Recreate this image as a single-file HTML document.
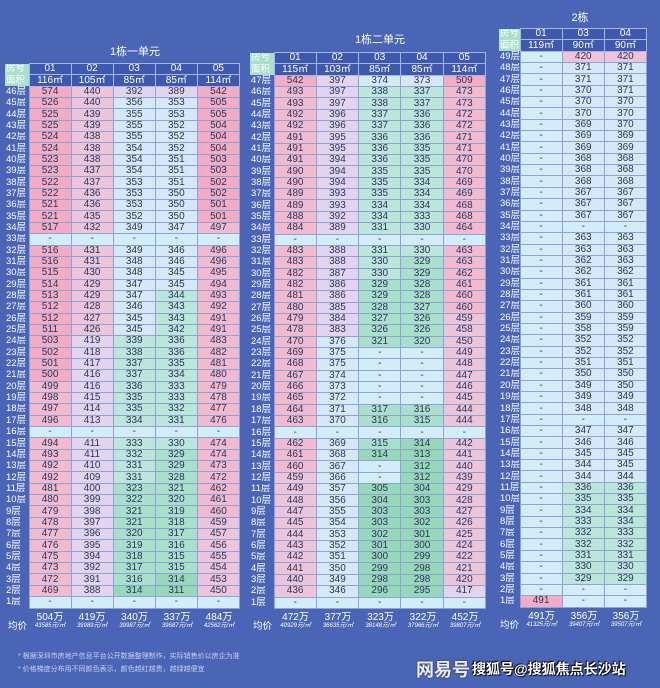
<!DOCTYPE html>
<html><head><meta charset="utf-8"><style>
*{margin:0;padding:0;box-sizing:border-box}
body{width:660px;height:688px;background:#4a64b6;position:relative;overflow:hidden;font-family:"Liberation Sans","Noto Sans CJK SC",sans-serif}
.t{position:absolute;border-collapse:collapse;table-layout:fixed}
.t tr{height:11.35px}
.t td,.t th{height:11.35px;overflow:hidden}
.t td{border:1px solid #8ea2d8;font-size:10px;color:#2e3556;text-align:center;line-height:10px;padding:0;white-space:nowrap}
.t th{font-size:9.5px;color:#fff;font-weight:normal;text-align:left;padding-left:1px;line-height:10px;white-space:nowrap}
.t tr.h td{background:#3e58ae;color:#fff;border:1px solid #a7b6e6}
.a{background:#f2adc5}.b{background:#f2bacf}.c{background:#ecc5db}.d{background:#e2d4ee}.e{background:#d5e8f6}.f{background:#d3edf8}.g{background:#bce6da}.h{background:#a9e0cb}.i{background:#97d8bb}
.ttl{position:absolute;color:#fff;font-size:11px;text-align:center}
.av{position:absolute;color:#fff;text-align:center;line-height:9px}
.av b{display:block;font-weight:normal;font-size:10px}
.av s{display:block;text-decoration:none;font-size:6px;font-style:italic}
.lab{position:absolute;color:#fff;font-size:9.5px}
.note{position:absolute;left:18px;color:#c9d0f0;font-size:7px}
</style></head><body>
<div class="ttl" style="left:85px;top:43px;width:100px">1栋一单元</div>
<div class="ttl" style="left:330px;top:31px;width:100px">1栋二单元</div>
<div class="ttl" style="left:530px;top:9px;width:100px">2栋</div>

<table class="t" style="left:5px;top:63px;width:235px">
<colgroup><col style="width:24px"><col><col><col><col><col></colgroup>
<tr class="h"><th>房号</th><td>01</td><td>02</td><td>03</td><td>04</td><td>05</td></tr>
<tr class="h"><th>面积</th><td>116㎡</td><td>105㎡</td><td>85㎡</td><td>85㎡</td><td>114㎡</td></tr>
<tr><th>46层</th><td class=a>574</td><td class=c>440</td><td class=d>392</td><td class=d>389</td><td class=a>542</td></tr>
<tr><th>45层</th><td class=a>526</td><td class=c>440</td><td class=e>356</td><td class=e>353</td><td class=a>505</td></tr>
<tr><th>44层</th><td class=a>525</td><td class=c>439</td><td class=e>355</td><td class=e>353</td><td class=a>505</td></tr>
<tr><th>43层</th><td class=a>525</td><td class=c>439</td><td class=e>355</td><td class=e>352</td><td class=a>504</td></tr>
<tr><th>42层</th><td class=a>524</td><td class=c>438</td><td class=e>355</td><td class=e>352</td><td class=a>504</td></tr>
<tr><th>41层</th><td class=a>524</td><td class=c>438</td><td class=e>354</td><td class=e>352</td><td class=a>504</td></tr>
<tr><th>40层</th><td class=a>523</td><td class=c>438</td><td class=e>354</td><td class=e>351</td><td class=a>503</td></tr>
<tr><th>39层</th><td class=a>523</td><td class=c>437</td><td class=e>354</td><td class=e>351</td><td class=a>503</td></tr>
<tr><th>38层</th><td class=a>522</td><td class=c>437</td><td class=e>353</td><td class=e>351</td><td class=a>502</td></tr>
<tr><th>37层</th><td class=a>522</td><td class=c>436</td><td class=e>353</td><td class=e>350</td><td class=a>502</td></tr>
<tr><th>36层</th><td class=a>521</td><td class=c>436</td><td class=e>353</td><td class=e>350</td><td class=a>501</td></tr>
<tr><th>35层</th><td class=a>521</td><td class=c>435</td><td class=e>352</td><td class=e>350</td><td class=a>501</td></tr>
<tr><th>34层</th><td class=a>517</td><td class=c>432</td><td class=e>349</td><td class=e>347</td><td class=b>497</td></tr>
<tr><th>33层</th><td class=f>-</td><td class=f>-</td><td class=f>-</td><td class=f>-</td><td class=f>-</td></tr>
<tr><th>32层</th><td class=a>516</td><td class=c>431</td><td class=e>349</td><td class=e>346</td><td class=b>496</td></tr>
<tr><th>31层</th><td class=a>516</td><td class=c>431</td><td class=e>348</td><td class=e>346</td><td class=b>496</td></tr>
<tr><th>30层</th><td class=a>515</td><td class=c>430</td><td class=e>348</td><td class=e>345</td><td class=b>495</td></tr>
<tr><th>29层</th><td class=a>514</td><td class=c>429</td><td class=e>347</td><td class=e>345</td><td class=b>494</td></tr>
<tr><th>28层</th><td class=a>513</td><td class=c>429</td><td class=e>347</td><td class=g>344</td><td class=b>493</td></tr>
<tr><th>27层</th><td class=a>512</td><td class=c>428</td><td class=e>346</td><td class=g>343</td><td class=b>492</td></tr>
<tr><th>26层</th><td class=a>512</td><td class=c>427</td><td class=e>345</td><td class=g>343</td><td class=b>491</td></tr>
<tr><th>25层</th><td class=a>511</td><td class=c>426</td><td class=e>345</td><td class=g>342</td><td class=b>491</td></tr>
<tr><th>24层</th><td class=a>503</td><td class=d>419</td><td class=g>339</td><td class=g>336</td><td class=b>483</td></tr>
<tr><th>23层</th><td class=a>502</td><td class=d>418</td><td class=g>338</td><td class=g>336</td><td class=b>482</td></tr>
<tr><th>22层</th><td class=a>501</td><td class=d>417</td><td class=g>337</td><td class=g>335</td><td class=b>481</td></tr>
<tr><th>21层</th><td class=a>500</td><td class=d>416</td><td class=g>337</td><td class=g>334</td><td class=b>480</td></tr>
<tr><th>20层</th><td class=b>499</td><td class=d>416</td><td class=g>336</td><td class=g>333</td><td class=b>479</td></tr>
<tr><th>19层</th><td class=b>498</td><td class=d>415</td><td class=g>335</td><td class=g>333</td><td class=b>478</td></tr>
<tr><th>18层</th><td class=b>497</td><td class=d>414</td><td class=g>335</td><td class=g>332</td><td class=b>477</td></tr>
<tr><th>17层</th><td class=b>496</td><td class=d>413</td><td class=g>334</td><td class=g>331</td><td class=b>476</td></tr>
<tr><th>16层</th><td class=f>-</td><td class=f>-</td><td class=f>-</td><td class=f>-</td><td class=f>-</td></tr>
<tr><th>15层</th><td class=b>494</td><td class=d>411</td><td class=g>333</td><td class=g>330</td><td class=b>474</td></tr>
<tr><th>14层</th><td class=b>493</td><td class=d>411</td><td class=g>332</td><td class=h>329</td><td class=b>474</td></tr>
<tr><th>13层</th><td class=b>492</td><td class=d>410</td><td class=g>331</td><td class=h>329</td><td class=b>473</td></tr>
<tr><th>12层</th><td class=b>492</td><td class=d>409</td><td class=g>331</td><td class=h>328</td><td class=b>472</td></tr>
<tr><th>11层</th><td class=b>481</td><td class=d>400</td><td class=h>323</td><td class=h>321</td><td class=b>462</td></tr>
<tr><th>10层</th><td class=b>480</td><td class=d>399</td><td class=h>322</td><td class=h>320</td><td class=b>461</td></tr>
<tr><th>9层</th><td class=b>479</td><td class=d>398</td><td class=h>321</td><td class=h>319</td><td class=b>460</td></tr>
<tr><th>8层</th><td class=b>478</td><td class=d>397</td><td class=h>321</td><td class=h>318</td><td class=c>459</td></tr>
<tr><th>7层</th><td class=b>477</td><td class=d>396</td><td class=h>320</td><td class=h>317</td><td class=c>457</td></tr>
<tr><th>6层</th><td class=b>476</td><td class=d>395</td><td class=h>319</td><td class=h>316</td><td class=c>456</td></tr>
<tr><th>5层</th><td class=b>475</td><td class=d>394</td><td class=h>318</td><td class=h>315</td><td class=c>455</td></tr>
<tr><th>4层</th><td class=b>473</td><td class=d>392</td><td class=h>317</td><td class=h>315</td><td class=c>454</td></tr>
<tr><th>3层</th><td class=b>472</td><td class=d>391</td><td class=h>316</td><td class=i>314</td><td class=c>453</td></tr>
<tr><th>2层</th><td class=b>469</td><td class=d>388</td><td class=i>314</td><td class=i>311</td><td class=c>450</td></tr>
<tr><th>1层</th><td class=f>-</td><td class=f>-</td><td class=f>-</td><td class=f>-</td><td class=f>-</td></tr>
</table>

<table class="t" style="left:250px;top:52px;width:236px">
<colgroup><col style="width:24px"><col><col><col><col><col></colgroup>
<tr class="h"><th>房号</th><td>01</td><td>02</td><td>03</td><td>04</td><td>05</td></tr>
<tr class="h"><th>面积</th><td>115㎡</td><td>103㎡</td><td>85㎡</td><td>85㎡</td><td>114㎡</td></tr>
<tr><th>47层</th><td class=a>542</td><td class=d>397</td><td class=e>374</td><td class=e>373</td><td class=a>509</td></tr>
<tr><th>46层</th><td class=b>493</td><td class=d>397</td><td class=g>338</td><td class=g>337</td><td class=b>473</td></tr>
<tr><th>45层</th><td class=b>493</td><td class=d>397</td><td class=g>338</td><td class=g>337</td><td class=b>473</td></tr>
<tr><th>44层</th><td class=b>492</td><td class=d>396</td><td class=g>337</td><td class=g>336</td><td class=b>472</td></tr>
<tr><th>43层</th><td class=b>492</td><td class=d>396</td><td class=g>337</td><td class=g>336</td><td class=b>472</td></tr>
<tr><th>42层</th><td class=b>491</td><td class=d>395</td><td class=g>336</td><td class=g>336</td><td class=b>471</td></tr>
<tr><th>41层</th><td class=b>491</td><td class=d>395</td><td class=g>336</td><td class=g>335</td><td class=b>471</td></tr>
<tr><th>40层</th><td class=b>491</td><td class=d>394</td><td class=g>336</td><td class=g>335</td><td class=b>470</td></tr>
<tr><th>39层</th><td class=b>490</td><td class=d>394</td><td class=g>335</td><td class=g>335</td><td class=b>470</td></tr>
<tr><th>38层</th><td class=b>490</td><td class=d>394</td><td class=g>335</td><td class=g>334</td><td class=b>469</td></tr>
<tr><th>37层</th><td class=b>489</td><td class=d>393</td><td class=g>335</td><td class=g>334</td><td class=b>469</td></tr>
<tr><th>36层</th><td class=b>489</td><td class=d>393</td><td class=g>334</td><td class=g>334</td><td class=b>468</td></tr>
<tr><th>35层</th><td class=b>488</td><td class=d>392</td><td class=g>334</td><td class=g>333</td><td class=b>468</td></tr>
<tr><th>34层</th><td class=b>484</td><td class=d>389</td><td class=g>331</td><td class=g>330</td><td class=b>464</td></tr>
<tr><th>33层</th><td class=f>-</td><td class=f>-</td><td class=f>-</td><td class=f>-</td><td class=f>-</td></tr>
<tr><th>32层</th><td class=b>483</td><td class=d>388</td><td class=g>331</td><td class=g>330</td><td class=b>463</td></tr>
<tr><th>31层</th><td class=b>483</td><td class=d>388</td><td class=g>330</td><td class=h>329</td><td class=b>463</td></tr>
<tr><th>30层</th><td class=b>482</td><td class=d>387</td><td class=g>330</td><td class=h>329</td><td class=b>462</td></tr>
<tr><th>29层</th><td class=b>482</td><td class=d>386</td><td class=h>329</td><td class=h>328</td><td class=b>461</td></tr>
<tr><th>28层</th><td class=b>481</td><td class=d>386</td><td class=h>329</td><td class=h>328</td><td class=b>460</td></tr>
<tr><th>27层</th><td class=b>480</td><td class=d>385</td><td class=h>328</td><td class=h>327</td><td class=b>460</td></tr>
<tr><th>26层</th><td class=b>479</td><td class=d>384</td><td class=h>327</td><td class=h>326</td><td class=c>459</td></tr>
<tr><th>25层</th><td class=b>478</td><td class=d>383</td><td class=h>326</td><td class=h>326</td><td class=c>458</td></tr>
<tr><th>24层</th><td class=b>470</td><td class=e>376</td><td class=h>321</td><td class=h>320</td><td class=c>450</td></tr>
<tr><th>23层</th><td class=b>469</td><td class=e>375</td><td class=f>-</td><td class=f>-</td><td class=c>449</td></tr>
<tr><th>22层</th><td class=b>468</td><td class=e>375</td><td class=f>-</td><td class=f>-</td><td class=c>448</td></tr>
<tr><th>21层</th><td class=b>467</td><td class=e>374</td><td class=f>-</td><td class=f>-</td><td class=c>447</td></tr>
<tr><th>20层</th><td class=b>466</td><td class=e>373</td><td class=f>-</td><td class=f>-</td><td class=c>446</td></tr>
<tr><th>19层</th><td class=b>465</td><td class=e>372</td><td class=f>-</td><td class=f>-</td><td class=c>445</td></tr>
<tr><th>18层</th><td class=b>464</td><td class=e>371</td><td class=h>317</td><td class=h>316</td><td class=c>444</td></tr>
<tr><th>17层</th><td class=b>463</td><td class=e>370</td><td class=h>316</td><td class=h>315</td><td class=c>444</td></tr>
<tr><th>16层</th><td class=f>-</td><td class=f>-</td><td class=f>-</td><td class=f>-</td><td class=f>-</td></tr>
<tr><th>15层</th><td class=b>462</td><td class=e>369</td><td class=h>315</td><td class=i>314</td><td class=c>442</td></tr>
<tr><th>14层</th><td class=b>461</td><td class=e>368</td><td class=i>314</td><td class=i>313</td><td class=c>441</td></tr>
<tr><th>13层</th><td class=b>460</td><td class=e>367</td><td class=f>-</td><td class=i>312</td><td class=c>440</td></tr>
<tr><th>12层</th><td class=c>459</td><td class=e>366</td><td class=f>-</td><td class=i>312</td><td class=c>439</td></tr>
<tr><th>11层</th><td class=c>449</td><td class=e>357</td><td class=i>305</td><td class=i>304</td><td class=c>429</td></tr>
<tr><th>10层</th><td class=c>448</td><td class=e>356</td><td class=i>304</td><td class=i>303</td><td class=c>428</td></tr>
<tr><th>9层</th><td class=c>447</td><td class=e>355</td><td class=i>303</td><td class=i>303</td><td class=c>427</td></tr>
<tr><th>8层</th><td class=c>445</td><td class=e>354</td><td class=i>303</td><td class=i>302</td><td class=c>426</td></tr>
<tr><th>7层</th><td class=c>444</td><td class=e>353</td><td class=i>302</td><td class=i>301</td><td class=c>425</td></tr>
<tr><th>6层</th><td class=c>443</td><td class=e>352</td><td class=i>301</td><td class=i>300</td><td class=c>424</td></tr>
<tr><th>5层</th><td class=c>442</td><td class=e>351</td><td class=i>300</td><td class=i>299</td><td class=c>422</td></tr>
<tr><th>4层</th><td class=c>441</td><td class=e>350</td><td class=i>299</td><td class=i>298</td><td class=c>421</td></tr>
<tr><th>3层</th><td class=c>440</td><td class=e>349</td><td class=i>298</td><td class=i>298</td><td class=c>420</td></tr>
<tr><th>2层</th><td class=c>436</td><td class=e>346</td><td class=i>296</td><td class=i>295</td><td class=d>417</td></tr>
<tr><th>1层</th><td class=f>-</td><td class=f>-</td><td class=f>-</td><td class=f>-</td><td class=f>-</td></tr>
</table>

<table class="t" style="left:499px;top:28px;width:148px">
<colgroup><col style="width:21px"><col><col><col></colgroup>
<tr class="h"><th>房号</th><td>01</td><td>03</td><td>04</td></tr>
<tr class="h"><th>面积</th><td>119㎡</td><td>90㎡</td><td>90㎡</td></tr>
<tr><th>49层</th><td class=f>-</td><td class=c>420</td><td class=c>420</td></tr>
<tr><th>48层</th><td class=f>-</td><td class=e>371</td><td class=e>371</td></tr>
<tr><th>47层</th><td class=f>-</td><td class=e>371</td><td class=e>371</td></tr>
<tr><th>46层</th><td class=f>-</td><td class=e>370</td><td class=e>371</td></tr>
<tr><th>45层</th><td class=f>-</td><td class=e>370</td><td class=e>370</td></tr>
<tr><th>44层</th><td class=f>-</td><td class=e>370</td><td class=e>370</td></tr>
<tr><th>43层</th><td class=f>-</td><td class=e>369</td><td class=e>370</td></tr>
<tr><th>42层</th><td class=f>-</td><td class=e>369</td><td class=e>369</td></tr>
<tr><th>41层</th><td class=f>-</td><td class=e>369</td><td class=e>369</td></tr>
<tr><th>40层</th><td class=f>-</td><td class=e>368</td><td class=e>368</td></tr>
<tr><th>39层</th><td class=f>-</td><td class=e>368</td><td class=e>368</td></tr>
<tr><th>38层</th><td class=f>-</td><td class=e>368</td><td class=e>368</td></tr>
<tr><th>37层</th><td class=f>-</td><td class=e>367</td><td class=e>367</td></tr>
<tr><th>36层</th><td class=f>-</td><td class=e>367</td><td class=e>367</td></tr>
<tr><th>35层</th><td class=f>-</td><td class=e>367</td><td class=e>367</td></tr>
<tr><th>34层</th><td class=f>-</td><td class=f>-</td><td class=f>-</td></tr>
<tr><th>33层</th><td class=f>-</td><td class=e>363</td><td class=e>363</td></tr>
<tr><th>32层</th><td class=f>-</td><td class=e>363</td><td class=e>363</td></tr>
<tr><th>31层</th><td class=f>-</td><td class=e>362</td><td class=e>363</td></tr>
<tr><th>30层</th><td class=f>-</td><td class=e>362</td><td class=e>362</td></tr>
<tr><th>29层</th><td class=f>-</td><td class=e>361</td><td class=e>361</td></tr>
<tr><th>28层</th><td class=f>-</td><td class=e>361</td><td class=e>361</td></tr>
<tr><th>27层</th><td class=f>-</td><td class=e>360</td><td class=e>360</td></tr>
<tr><th>26层</th><td class=f>-</td><td class=e>359</td><td class=e>359</td></tr>
<tr><th>25层</th><td class=f>-</td><td class=e>358</td><td class=e>359</td></tr>
<tr><th>24层</th><td class=f>-</td><td class=e>352</td><td class=e>352</td></tr>
<tr><th>23层</th><td class=f>-</td><td class=e>352</td><td class=e>352</td></tr>
<tr><th>22层</th><td class=f>-</td><td class=e>351</td><td class=e>351</td></tr>
<tr><th>21层</th><td class=f>-</td><td class=e>350</td><td class=e>350</td></tr>
<tr><th>20层</th><td class=f>-</td><td class=e>349</td><td class=e>350</td></tr>
<tr><th>19层</th><td class=f>-</td><td class=e>349</td><td class=e>349</td></tr>
<tr><th>18层</th><td class=f>-</td><td class=e>348</td><td class=e>348</td></tr>
<tr><th>17层</th><td class=f>-</td><td class=f>-</td><td class=f>-</td></tr>
<tr><th>16层</th><td class=f>-</td><td class=e>347</td><td class=e>347</td></tr>
<tr><th>15层</th><td class=f>-</td><td class=e>346</td><td class=e>346</td></tr>
<tr><th>14层</th><td class=f>-</td><td class=e>345</td><td class=e>345</td></tr>
<tr><th>13层</th><td class=f>-</td><td class=e>344</td><td class=e>345</td></tr>
<tr><th>12层</th><td class=f>-</td><td class=e>344</td><td class=e>344</td></tr>
<tr><th>11层</th><td class=f>-</td><td class=g>336</td><td class=g>336</td></tr>
<tr><th>10层</th><td class=f>-</td><td class=g>335</td><td class=g>335</td></tr>
<tr><th>9层</th><td class=f>-</td><td class=g>334</td><td class=g>334</td></tr>
<tr><th>8层</th><td class=f>-</td><td class=g>333</td><td class=g>334</td></tr>
<tr><th>7层</th><td class=f>-</td><td class=g>332</td><td class=g>333</td></tr>
<tr><th>6层</th><td class=f>-</td><td class=g>332</td><td class=g>332</td></tr>
<tr><th>5层</th><td class=f>-</td><td class=g>331</td><td class=g>331</td></tr>
<tr><th>4层</th><td class=f>-</td><td class=g>330</td><td class=g>330</td></tr>
<tr><th>3层</th><td class=f>-</td><td class=g>329</td><td class=g>329</td></tr>
<tr><th>2层</th><td class=f>-</td><td class=f>-</td><td class=f>-</td></tr>
<tr><th>1层</th><td class=a>491</td><td class=f>-</td><td class=f>-</td></tr>
</table>

<div class="lab" style="left:8px;top:618px">均价</div>
<div class="av" style="left:29px;top:613px;width:42px"><b>504万</b><s>43585元/㎡</s></div>
<div class="av" style="left:71px;top:613px;width:42px"><b>419万</b><s>39989元/㎡</s></div>
<div class="av" style="left:113px;top:613px;width:43px"><b>340万</b><s>39987元/㎡</s></div>
<div class="av" style="left:156px;top:613px;width:42px"><b>337万</b><s>39687元/㎡</s></div>
<div class="av" style="left:198px;top:613px;width:42px"><b>484万</b><s>42562元/㎡</s></div>

<div class="lab" style="left:253px;top:618px">均价</div>
<div class="av" style="left:274px;top:613px;width:43px"><b>472万</b><s>40929元/㎡</s></div>
<div class="av" style="left:317px;top:613px;width:42px"><b>377万</b><s>36635元/㎡</s></div>
<div class="av" style="left:359px;top:613px;width:43px"><b>323万</b><s>38148元/㎡</s></div>
<div class="av" style="left:402px;top:613px;width:42px"><b>322万</b><s>37966元/㎡</s></div>
<div class="av" style="left:444px;top:613px;width:42px"><b>452万</b><s>39807元/㎡</s></div>

<div class="lab" style="left:500px;top:617px">均价</div>
<div class="av" style="left:520px;top:612px;width:43px"><b>491万</b><s>41325元/㎡</s></div>
<div class="av" style="left:563px;top:612px;width:42px"><b>356万</b><s>39407元/㎡</s></div>
<div class="av" style="left:605px;top:612px;width:42px"><b>356万</b><s>39507元/㎡</s></div>

<div class="note" style="top:651px">* 根据深圳市房地产信息平台公开数据整理制作，实际销售价以房企为准</div>
<div class="note" style="top:664px">* 价格梯度分布用不同颜色表示，颜色越红越贵，越绿越便宜</div>

<div style="position:absolute;left:416px;top:656px;color:#e8eaf4;font-size:18px;font-weight:bold;text-shadow:0 0 2px #333">网易号</div>
<div style="position:absolute;left:472px;top:659px;color:#fff;font-size:14px;font-weight:bold;text-shadow:1px 1px 1px #000,-1px -1px 1px #000">搜狐号@搜狐焦点长沙站</div>
</body></html>
